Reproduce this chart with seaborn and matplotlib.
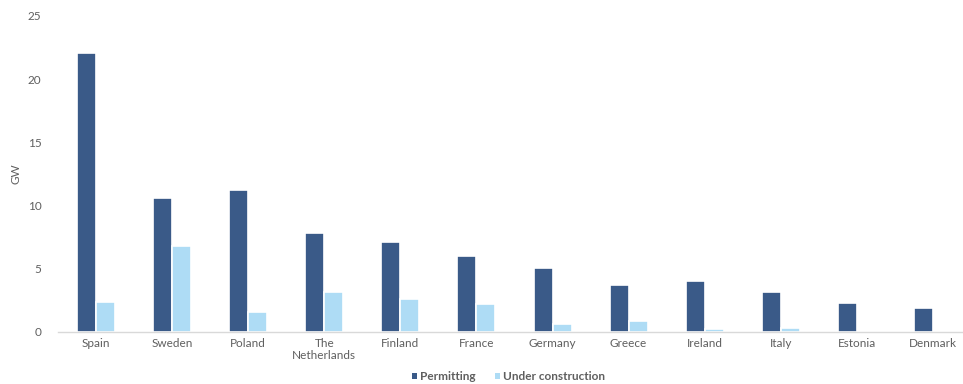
import matplotlib
matplotlib.use("Agg")
import matplotlib.pyplot as plt
import seaborn as sns
import pandas as pd

countries = ["Spain", "Sweden", "Poland", "The\nNetherlands", "Finland", "France",
             "Germany", "Greece", "Ireland", "Italy", "Estonia", "Denmark"]
permitting = [22.1, 10.6, 11.2, 7.8, 7.1, 6.0, 5.1, 3.7, 4.0, 3.2, 2.3, 1.9]
under_construction = [2.4, 6.8, 1.6, 3.2, 2.6, 2.2, 0.6, 0.9, 0.2, 0.3, 0.0, 0.0]
series = ["Permitting", "Under construction"]
colors = ["#3A5A88", "#AEDCF5"]
yticks = [0, 5, 10, 15, 20, 25]

df = pd.DataFrame({
    "country": countries * 2,
    "value": permitting + under_construction,
    "series": [series[0]] * len(countries) + [series[1]] * len(countries),
})

sns.set_theme(style="white")
plt.rcParams["font.family"] = ["Lato", "DejaVu Sans"]
text_color = "#5F5F5F"

fig = plt.figure(figsize=(9.63, 3.84), dpi=100)
ax = fig.add_axes([58 / 963, 52 / 384, 913 / 963, 316 / 384])

sns.barplot(data=df, x="country", y="value", hue="series", palette=colors,
            saturation=1, width=0.5, edgecolor="white", linewidth=1.2, ax=ax,
            legend=True)

ax.set_xlim(-0.5, len(countries) - 0.5)
ax.set_ylim(0, 25)
ax.set_yticks(yticks)
ax.set_yticklabels([str(t) for t in yticks], fontsize=8.5, color=text_color)
ax.tick_params(axis="x", labelsize=8.5, colors=text_color, length=0, pad=4)
ax.tick_params(axis="y", length=0, pad=12)
ax.set_xlabel("")
ax.set_ylabel("GW", fontsize=8.5, color=text_color, labelpad=14)
ax.yaxis.set_label_coords(-37 / 913, 0.5)
for s in ["top", "right", "left"]:
    ax.spines[s].set_visible(False)
ax.spines["bottom"].set_color("#D9D9D9")
ax.spines["bottom"].set_linewidth(1)
ax.grid(False)

handles, labels = ax.get_legend_handles_labels()
ax.legend_.remove()
for h in handles:
    h.set_edgecolor("none")
leg = fig.legend(handles, labels, loc="center", bbox_to_anchor=(0.528, 0.02),
                 ncol=2, frameon=False, handlelength=0.42, handleheight=0.42,
                 handletextpad=0.25, columnspacing=1.6,
                 prop={"size": 8.5, "weight": "bold"})
for t in leg.get_texts():
    t.set_color(text_color)

fig.savefig("out.png", dpi=100)
